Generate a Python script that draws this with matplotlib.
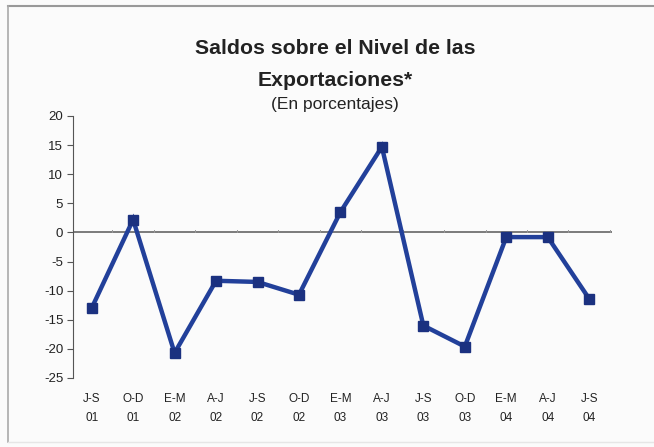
import matplotlib
matplotlib.use("Agg")
import matplotlib.pyplot as plt
from matplotlib.lines import Line2D
import numpy as np

plt.rcParams["font.family"] = ["Liberation Sans", "DejaVu Sans"]

periods = ["J-S\n01", "O-D\n01", "E-M\n02", "A-J\n02", "J-S\n02", "O-D\n02", "E-M\n03",
           "A-J\n03", "J-S\n03", "O-D\n03", "E-M\n04", "A-J\n04", "J-S\n04"]
saldos = [-13.0, 2.2, -20.7, -8.3, -8.5, -10.7, 3.5, 14.7, -16.0, -19.6, -0.8, -0.8, -11.4]
yticks = [20, 15, 10, 5, 0, -5, -10, -15, -20, -25]

LINE = "#22409a"
MARK = "#1b3180"

fig = plt.figure(figsize=(6.54, 4.47), dpi=100, facecolor="#fbfbfb")
W, H = 654, 447
ax = fig.add_axes([73 / W, 1 - 378 / H, (612 - 73) / W, (378 - 116) / H])
ax.set_facecolor("#fbfbfb")

x = np.arange(len(saldos))
ax.plot(x, saldos, color=LINE, lw=3.2, marker="s", ms=7.5,
        mfc=MARK, mec=MARK, zorder=3, solid_joinstyle="miter")

# category axis crossing at zero
ax.axhline(0, color="#666666", lw=1.2, zorder=2)
for b in np.arange(len(saldos) + 1) - 0.5:
    ax.plot([b, b], [0, 0.5], color="#999999", lw=0.7, zorder=2)

ax.set_xlim(-0.45, len(saldos) - 0.45)
ax.set_ylim(-25, 20)
ax.set_yticks(yticks)
ax.set_yticklabels([str(v) for v in yticks], fontsize=9.5, color="#222222")
ax.tick_params(axis="y", direction="out", length=4, width=0.8, color="#555555", pad=3)
ax.set_xticks(x)
ax.set_xticklabels(periods, fontsize=8.5, color="#222222", linespacing=1.7)
ax.tick_params(axis="x", length=0, pad=11)
for s in ["top", "right", "bottom"]:
    ax.spines[s].set_visible(False)
ax.spines["left"].set_color("#555555")
ax.spines["left"].set_linewidth(0.8)

fig.text(335 / W, 1 - 48 / H, "Saldos sobre el Nivel de las", ha="center", va="center",
         fontsize=15.3, fontweight="bold", color="#222222")
fig.text(335 / W, 1 - 81 / H, "Exportaciones*", ha="center", va="center",
         fontsize=15.3, fontweight="bold", color="#222222")
fig.text(335 / W, 1 - 104 / H, "(En porcentajes)", ha="center", va="center",
         fontsize=12.5, color="#222222")

# chart frame
fig.add_artist(Line2D([8 / W, 1], [1 - 6 / H, 1 - 6 / H], color="#999999", lw=1.5))
fig.add_artist(Line2D([8 / W, 8 / W], [1 - 6 / H, 1 - 442 / H], color="#aaaaaa", lw=1.2))
fig.add_artist(Line2D([8 / W, 1], [1 - 442 / H, 1 - 442 / H], color="#e6e6e6", lw=1.0))

fig.savefig("out.png", dpi=100, facecolor=fig.get_facecolor())
